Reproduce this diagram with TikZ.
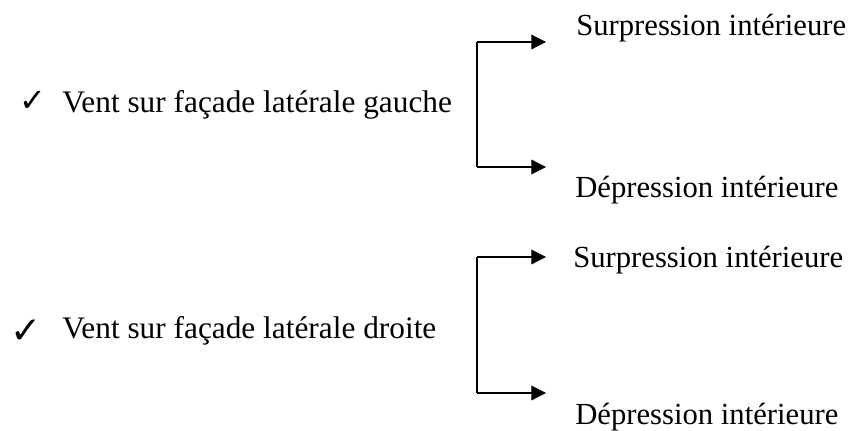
\documentclass[tikz,border=0pt]{standalone}
\usepackage{fontspec}
\setmainfont{Liberation Serif}
\newfontfamily\symfont{DejaVu Sans}
\usetikzlibrary{arrows.meta}
\begin{document}
\begin{tikzpicture}[x=0.75pt,y=-0.75pt,
  lbl/.style={inner sep=0pt,anchor=base west,font=\fontsize{23pt}{27pt}\selectfont},
  lbll/.style={lbl,font=\fontsize{23.5pt}{28pt}\selectfont},
  chk/.style={inner sep=0pt,anchor=base west},
  arr/.style={line width=0.9pt,-{Triangle[length=11pt,width=11pt]}},
  brk/.style={line width=0.9pt}]
\useasboundingbox (0,0) rectangle (860,431);
% first group
\node[chk,font=\fontsize{24pt}{28pt}\symfont] (c1) at (19,112) {✓};
\node[lbll] (v1) at (62,113) {Vent sur façade latérale gauche};
\coordinate (j1t) at (477,42);
\coordinate (j1b) at (477,167);
\coordinate (p1t) at (546,42);
\coordinate (p1b) at (546,167);
\node[lbl] (s1) at (576,36) {Surpression intérieure};
\node[lbl] (d1) at (575,197) {Dépression intérieure};
\draw[brk] (j1t) -- (j1b);
\draw[arr] (j1t) -- (p1t);
\draw[arr] (j1b) -- (p1b);
% second group
\node[chk,font=\fontsize{28pt}{32pt}\symfont] (c2) at (10,343) {✓};
\node[lbll] (v2) at (62,338) {Vent sur façade latérale droite};
\coordinate (j2t) at (477,257);
\coordinate (j2b) at (477,393);
\coordinate (p2t) at (546,257);
\coordinate (p2b) at (546,393);
\node[lbl] (s2) at (573,267) {Surpression intérieure};
\node[lbl] (d2) at (575,424) {Dépression intérieure};
\draw[brk] (j2t) -- (j2b);
\draw[arr] (j2t) -- (p2t);
\draw[arr] (j2b) -- (p2b);
\end{tikzpicture}
\end{document}
